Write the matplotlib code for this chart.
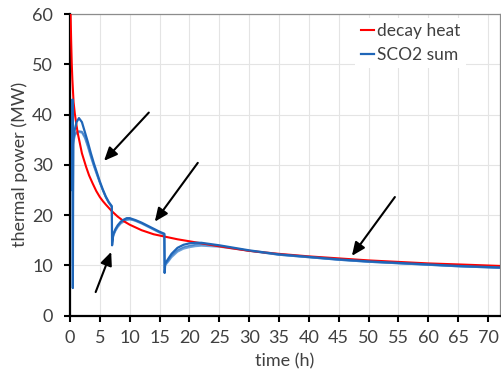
import numpy as np
import matplotlib.pyplot as plt

plt.rcParams['font.family'] = ['Lato', 'DejaVu Sans']

# decay heat curve
t_decay = [0.0, 0.1, 0.2, 0.3, 0.4, 0.6, 0.8, 1.0, 1.3, 1.6, 2.0, 2.7, 3.2,
           3.8, 4.4, 5.0, 5.5, 6.0, 7.0, 8.0, 9.0, 10.0, 12.0, 14.0, 16.0,
           18.0, 20.0, 22.0, 25.0, 30.0, 35.0, 40.0, 45.0, 50.0, 55.0, 60.0,
           65.0, 72.0]
p_decay = [66.0, 60.0, 54.5, 50.0, 47.0, 42.5, 40.3, 38.6, 36.3, 34.6, 32.3,
           29.6, 27.9, 26.3, 24.8, 23.6, 22.8, 22.1, 20.8, 19.7, 18.8, 18.1,
           17.0, 16.2, 15.7, 15.2, 14.8, 14.4, 13.8, 12.9, 12.3, 11.8, 11.4,
           11.0, 10.7, 10.4, 10.2, 9.9]

# SCO2 sum, main (darker) run
t_sco2 = [0.38, 0.42, 0.45, 0.48, 0.55, 0.8, 1.1, 1.5, 2.0, 2.5, 3.0, 3.5, 4.0,
          4.5, 5.0, 5.5, 6.0, 6.5, 7.0, 7.05, 7.25, 7.6, 8.0, 8.5, 9.0, 9.5,
          10.0, 10.5, 11.0, 12.0, 13.0, 14.0, 15.0, 15.8, 15.85, 15.95, 16.5,
          17.0, 18.0, 19.0, 20.0, 21.0, 22.0, 25.0, 30.0, 35.0, 40.0, 45.0,
          50.0, 55.0, 60.0, 65.0, 72.0]
p_sco2_a = [25.0, 43.0, 30.0, 5.5, 35.0, 37.0, 38.5, 39.3, 38.5, 36.5, 34.5,
            32.3, 30.3, 28.5, 26.7, 25.1, 23.7, 22.6, 21.8, 14.0, 16.2, 17.2,
            18.0, 18.7, 19.1, 19.4, 19.4, 19.2, 19.0, 18.5, 17.9, 17.3, 16.7,
            16.3, 8.5, 10.4, 11.4, 12.3, 13.5, 14.1, 14.4, 14.5, 14.5, 14.0,
            13.0, 12.2, 11.7, 11.2, 10.8, 10.5, 10.2, 9.9, 9.6]
# lighter runs
p_sco2_b = [25.0, 40.0, 30.0, 10.0, 34.5, 36.0, 36.5, 36.7, 36.6, 35.6, 33.8,
            31.8, 29.9, 28.2, 26.5, 25.0, 23.6, 22.5, 21.7, 14.5, 16.0, 17.0,
            17.8, 18.5, 18.9, 19.2, 19.2, 19.1, 18.9, 18.4, 17.8, 17.2, 16.6,
            16.2, 9.5, 10.2, 11.0, 11.9, 13.0, 13.6, 13.9, 14.1, 14.2, 13.9,
            12.9, 12.1, 11.6, 11.1, 10.7, 10.4, 10.1, 9.8, 9.5]
p_sco2_c = [25.0, 38.0, 31.0, 10.5, 34.0, 35.8, 36.3, 36.5, 36.4, 35.3, 33.5,
            31.5, 29.7, 28.0, 26.4, 24.9, 23.5, 22.4, 21.6, 14.8, 15.8, 16.8,
            17.6, 18.3, 18.7, 19.0, 19.1, 19.0, 18.8, 18.3, 17.7, 17.1, 16.5,
            16.1, 9.8, 10.0, 10.8, 11.6, 12.7, 13.3, 13.6, 13.8, 13.9, 13.7,
            12.9, 12.1, 11.6, 11.1, 10.7, 10.4, 10.1, 9.8, 9.5]

# arrows: (tail, head) in data units
arrows = [((13.2, 40.4), (5.7, 30.8)),
          ((21.4, 30.4), (14.2, 18.7)),
          ((4.3, 4.7), (6.9, 12.7)),
          ((54.4, 23.6), (47.2, 11.9))]

fig = plt.figure(figsize=(5.02, 3.73), dpi=100)
ax = fig.add_axes([0.1394, 0.1536, 0.8566, 0.8088])

ax.plot(t_sco2, p_sco2_c, color='#6fa3da', lw=1.3, zorder=3)
ax.plot(t_sco2, p_sco2_b, color='#4a86cc', lw=1.3, zorder=3)
ax.plot(t_decay, p_decay, color='#ff0000', lw=1.5, zorder=4, label='decay heat')
ax.plot(t_sco2, p_sco2_a, color='#1f66b8', lw=1.6, zorder=5, label='SCO2 sum')

for tail, head in arrows:
    ax.annotate('', xy=head, xytext=tail,
                arrowprops=dict(arrowstyle='-|>,head_length=0.8,head_width=0.35',
                                color='black', lw=1.5, shrinkA=0, shrinkB=0),
                zorder=6)

ax.set_xlim(0, 72)
ax.set_ylim(0, 60)
ax.set_xticks(np.arange(0, 71, 5))
ax.set_yticks(np.arange(0, 61, 10))
ax.grid(True, color='#e4e4e4', lw=0.8)
ax.set_axisbelow(True)

for side in ['left', 'bottom']:
    ax.spines[side].set_color('black')
    ax.spines[side].set_linewidth(1.6)
for side in ['top', 'right']:
    ax.spines[side].set_color('#8c8c8c')
    ax.spines[side].set_linewidth(0.9)
ax.tick_params(direction='out', length=4.3, width=1.5, color='black',
               labelsize=13, labelcolor='#404040')
ax.tick_params(axis='x', pad=6)
ax.tick_params(axis='y', pad=8)

ax.set_xlabel('time (h)', fontsize=13, color='#404040', labelpad=5)
ax.set_ylabel('thermal power (MW)', fontsize=13, color='#404040', labelpad=3)

leg = ax.legend(loc='upper right', fontsize=12.5, handlelength=0.8,
                handletextpad=0.15, labelspacing=0.45, borderpad=0.3,
                bbox_to_anchor=(0.94, 1.015), frameon=True, fancybox=False)
leg.get_frame().set_edgecolor('none')
leg.get_frame().set_facecolor('white')
leg.get_frame().set_alpha(1)
for txt in leg.get_texts():
    txt.set_color('#404040')

fig.savefig('out.png', dpi=100)
